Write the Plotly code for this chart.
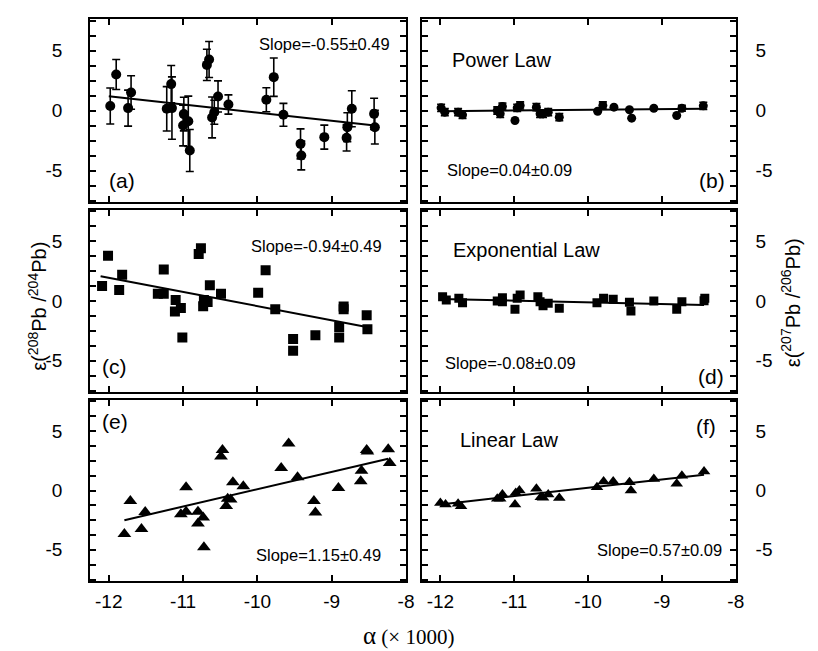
import plotly.graph_objects as go

W, H = 818, 651

# ---------------- data ----------------
# (a) 208/204, power law (circles with error bars)
a_x = [-11.98, -11.90, -11.74, -11.70, -11.22, -11.16, -11.15, -10.99, -11.00, -10.93,
       -10.91, -10.68, -10.65, -10.61, -10.58, -10.53, -10.39, -9.88, -9.78, -9.65,
       -9.42, -9.41, -9.10, -8.80, -8.79, -8.73, -8.43, -8.42]
a_y = [0.38, 3.00, 0.20, 1.50, 0.14, 2.20, 0.20, -0.30, -1.25, -0.90,
       -3.33, 3.80, 4.25, -0.58, -0.14, 1.17, 0.50, 0.90, 2.78, -0.36,
       -2.78, -3.75, -2.22, -2.28, -1.39, 0.14, -0.28, -1.39]
a_err = [1.50, 1.25, 1.50, 1.40, 1.85, 1.55, 2.60, 1.40, 1.70, 2.10,
         1.75, 1.30, 1.50, 1.70, 1.00, 1.30, 0.80, 1.00, 1.60, 0.95,
         1.25, 1.20, 1.00, 1.10, 1.20, 1.50, 1.30, 1.40]
a_fit_x = [-12.0, -8.42]
a_fit_y = [1.19, -1.25]

# (b) 207/206, power law (circles, small error bars)
b_x = [-11.99, -11.94, -11.76, -11.70, -11.23, -11.19, -11.16, -10.99, -10.96, -10.92,
       -10.70, -10.65, -10.61, -10.54, -10.39, -9.87, -9.80, -9.65, -9.44, -9.41,
       -9.11, -8.80, -8.73, -8.44]
b_y = [0.22, -0.14, -0.14, -0.36, 0.00, -0.28, 0.33, -0.83, 0.22, 0.42,
       0.28, -0.28, -0.28, -0.14, -0.56, -0.06, 0.42, 0.28, 0.06, -0.64,
       0.19, -0.42, 0.19, 0.39]
b_err = [0.30, 0.30, 0.30, 0.30, 0.30, 0.30, 0.30, 0.00, 0.30, 0.30,
         0.30, 0.30, 0.30, 0.30, 0.30, 0.00, 0.30, 0.00, 0.00, 0.00,
         0.00, 0.00, 0.25, 0.30]
b_fit_x = [-12.0, -8.44]
b_fit_y = [-0.06, 0.14]

# (c) 208/204, exponential law (squares)
c_x = [-12.09, -12.01, -11.86, -11.82, -11.34, -11.26, -11.26, -11.10, -11.11, -11.03,
       -11.01, -10.79, -10.76, -10.73, -10.72, -10.67, -10.64, -10.49, -9.99, -9.89,
       -9.76, -9.52, -9.52, -9.22, -8.90, -8.90, -8.84, -8.84, -8.53, -8.52]
c_y = [1.25, 3.80, 0.92, 2.19, 0.61, 2.64, 0.61, 0.08, -0.89, -0.58,
       -3.06, 3.94, 4.42, -0.44, 0.08, -0.08, 1.33, 0.61, 0.69, 2.58,
       -0.69, -3.19, -4.17, -2.86, -3.06, -2.17, -0.47, -0.69, -1.19, -2.36]
c_fit_x = [-12.11, -8.53]
c_fit_y = [2.08, -2.17]

# (d) 207/206, exponential law (squares)
d_x = [-11.97, -11.92, -11.75, -11.70, -11.23, -11.16, -11.16, -10.99, -10.96, -10.92,
       -10.68, -10.65, -10.61, -10.54, -10.39, -9.88, -9.79, -9.66, -9.44, -9.42,
       -9.11, -8.80, -8.73, -8.43, -8.42]
d_y = [0.36, 0.08, 0.22, -0.14, 0.00, 0.28, -0.06, -0.69, 0.22, 0.50,
       0.36, -0.06, -0.39, -0.19, -0.61, -0.14, 0.22, 0.14, -0.11, -0.83,
       0.00, -0.69, -0.06, 0.03, 0.22]
d_fit_x = [-12.0, -8.43]
d_fit_y = [0.17, -0.33]

# (e) 208/204, linear law (triangles)
e_x = [-11.79, -11.71, -11.56, -11.51, -11.03, -10.96, -10.96, -10.80, -10.80, -10.73,
       -10.72, -10.49, -10.47, -10.42, -10.40, -10.36, -10.33, -10.19, -9.68, -9.58,
       -9.46, -9.24, -9.22, -8.91, -8.60, -8.61, -8.53, -8.52, -8.24, -8.22]
e_y = [-3.67, -0.89, -3.25, -1.81, -2.00, 0.28, -1.78, -1.78, -2.78, -2.28,
       -4.78, 2.86, 3.42, -1.31, -0.69, -0.75, 0.69, 0.36, 1.89, 3.97,
       1.11, -0.89, -1.86, 0.22, 1.67, 0.78, 3.42, 3.28, 3.47, 2.31]
e_fit_x = [-11.79, -8.24]
e_fit_y = [-2.50, 2.67]

# (f) 207/206, linear law (triangles)
f_x = [-12.00, -11.93, -11.76, -11.72, -11.23, -11.19, -11.16, -10.99, -10.98, -10.93,
       -10.70, -10.64, -10.61, -10.54, -10.39, -9.88, -9.79, -9.66, -9.44, -9.42,
       -9.11, -8.80, -8.73, -8.43]
f_y = [-1.06, -1.19, -1.11, -1.33, -0.69, -0.69, -0.33, -1.19, -0.22, 0.00,
       0.14, -0.56, -0.61, -0.33, -0.64, 0.28, 0.75, 0.75, 0.69, 0.00,
       0.97, 0.56, 1.25, 1.61]
f_fit_x = [-12.0, -8.43]
f_fit_y = [-1.17, 1.33]

x_ticks = [-12, -11, -10, -9, -8]
x_ticktext = ["-12", "-11", "-10", "-9", "-8"]
y_ticks = [-5, 0, 5]
y_ticktext = ["-5", "0", "5"]
y_minor_step = 1.25

slope_labels = ["Slope=-0.55±0.49", "Slope=0.04±0.09", "Slope=-0.94±0.49",
                "Slope=-0.08±0.09", "Slope=1.15±0.49", "Slope=0.57±0.09"]
panel_labels = ["(a)", "(b)", "(c)", "(d)", "(e)", "(f)"]
law_labels = ["Power Law", "Exponential Law", "Linear Law"]

# ---------------- figure ----------------
FONT = "Liberation Sans, Arial, Helvetica, sans-serif"
SERIF = "Liberation Serif, Times New Roman, serif"

def fx(p):
    return p / W

def fy(p):
    return 1 - p / H

col_dom = [[fx(83), fx(402)], [fx(418), fx(735)]]
row_dom = [[fy(194), fy(11)], [fy(384), fy(202)], [fy(573), fy(392)]]

fig = go.Figure()

panels = [
    (a_x, a_y, a_err, "circle", 10, a_fit_x, a_fit_y),
    (b_x, b_y, b_err, "circle", 9, b_fit_x, b_fit_y),
    (c_x, c_y, None, "square", 10, c_fit_x, c_fit_y),
    (d_x, d_y, None, "square", 9, d_fit_x, d_fit_y),
    (e_x, e_y, None, "triangle-up", 12, e_fit_x, e_fit_y),
    (f_x, f_y, None, "triangle-up", 11, f_fit_x, f_fit_y),
]

for i, (xs, ys, errs, sym, sz, fitx, fity) in enumerate(panels):
    n = i + 1
    xa = "x" if n == 1 else f"x{n}"
    ya = "y" if n == 1 else f"y{n}"
    fig.add_trace(go.Scatter(x=fitx, y=fity, mode="lines",
                             line=dict(color="black", width=2),
                             xaxis=xa, yaxis=ya, showlegend=False, hoverinfo="skip"))
    err = None
    if errs is not None:
        err = dict(type="data", array=errs, visible=True, color="black",
                   thickness=1.6, width=4)
    fig.add_trace(go.Scatter(x=xs, y=ys, mode="markers",
                             marker=dict(symbol=sym, size=sz, color="black"),
                             error_y=err, xaxis=xa, yaxis=ya, showlegend=False))

layout = dict(width=W, height=H, margin=dict(l=0, r=0, t=0, b=0),
              paper_bgcolor="white", plot_bgcolor="white",
              font=dict(family=FONT, color="black", size=16))

for i in range(6):
    n = i + 1
    row, col = i // 2, i % 2
    xkey = "xaxis" if n == 1 else f"xaxis{n}"
    ykey = "yaxis" if n == 1 else f"yaxis{n}"
    layout[xkey] = dict(domain=col_dom[col], anchor="y" if n == 1 else f"y{n}",
                        range=[-12.25, -8], tickvals=x_ticks, ticktext=x_ticktext,
                        ticks="inside", ticklen=6, tickwidth=1.5, tickcolor="black",
                        showline=True, linewidth=2, linecolor="black", mirror="allticks",
                        showgrid=False, zeroline=False,
                        showticklabels=(row == 2), tickfont=dict(size=19, family=FONT),
                        ticklabelstandoff=2)
    layout[ykey] = dict(domain=row_dom[row], anchor="x" if n == 1 else f"x{n}",
                        range=[-7.625, 7.625], tickvals=y_ticks, ticktext=y_ticktext,
                        ticks="inside", ticklen=6, tickwidth=1.5, tickcolor="black",
                        minor=dict(dtick=y_minor_step, tick0=0, ticks="inside", ticklen=6,
                                   tickwidth=1.5, tickcolor="black", showgrid=False),
                        showline=True, linewidth=2, linecolor="black", mirror="allticks",
                        showgrid=False, zeroline=False,
                        side="left" if col == 0 else "right",
                        tickfont=dict(size=19, family=FONT),
                        ticklabelstandoff=22 if col == 0 else 14)

annotations = []

def add_text(text, x, y, size, family=FONT, angle=0):
    annotations.append(dict(text=text, x=fx(x), y=fy(y), xref="paper", yref="paper",
                            showarrow=False, xanchor="center", yanchor="middle",
                            textangle=angle, font=dict(size=size, family=family, color="black")))

slope_pos = [(320, 36), (506, 162), (312, 238), (507, 355), (314, 547), (658, 542)]
label_pos = [(115, 172), (711, 172), (108, 358), (710, 368), (108, 413), (705, 418)]
law_pos = [(498, 52), (524, 242), (506, 432)]

for t, (x, y) in zip(slope_labels, slope_pos):
    add_text(t, x, y, 16.5)
for t, (x, y) in zip(panel_labels, label_pos):
    add_text(t, x, y, 21)
for t, (x, y) in zip(law_labels, law_pos):
    add_text(t, x, y, 20)

add_text("ε(<sup>208</sup>Pb /<sup>204</sup>Pb)", 30, 298, 20, angle=-90)
add_text("ε(<sup>207</sup>Pb /<sup>206</sup>Pb)", 790, 295, 20, angle=-90)
add_text("<span style='font-size:25px'>α</span> (× 1000)", 404, 627, 21, family=SERIF)

layout["annotations"] = annotations
fig.update_layout(**layout)
fig.write_html("out.html")
